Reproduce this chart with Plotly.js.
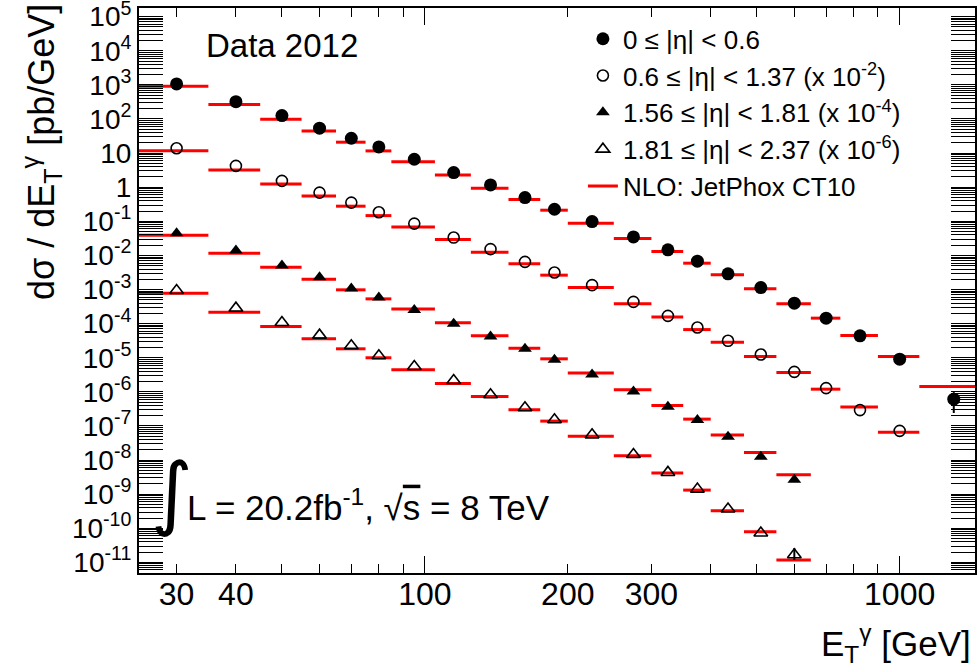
<!DOCTYPE html>
<html><head><meta charset="utf-8">
<script src="https://cdn.plot.ly/plotly-3.0.1.min.js"></script>
<style>body{margin:0;background:#fff}#chart{width:979px;height:672px}</style>
</head><body><div id="chart"></div>
<script>
// Photon ET bins [GeV]
const binLo     = [25, 35, 45, 55, 65, 75, 85, 105, 125, 150, 175, 200, 250, 300, 350, 400, 470, 550, 650, 750, 900, 1100];
const binHi     = [35, 45, 55, 65, 75, 85, 105, 125, 150, 175, 200, 250, 300, 350, 400, 470, 550, 650, 750, 900, 1100, 1500];
const binCenter = [30, 40, 50, 60, 70, 80, 95, 115, 137.5, 162.5, 187.5, 225, 275, 325, 375, 435, 510, 600, 700, 825, 1000, 1300];

// Scale factors applied in the plot (legend: x 10^-2, x 10^-4, x 10^-6)
const scaleFactors = [1, 1e-2, 1e-4, 1e-6];

const seriesNames = [
  '0 ≤ |η| < 0.6',
  '0.6 ≤ |η| < 1.37 (x 10<sup>-2</sup>)',
  '1.56 ≤ |η| < 1.81 (x 10<sup>-4</sup>)',
  '1.81 ≤ |η| < 2.37 (x 10<sup>-6</sup>)'
];
const nloName = 'NLO: JetPhox CT10';

// Measured dσ/dET [pb/GeV] (unscaled)
const data0 = [1070, 323, 126, 53.7, 27.3, 15.2, 6.6, 2.69, 1.17, 0.497, 0.226, 0.0984, 0.035, 0.01456, 0.00679, 0.00288, 0.001146, 3.99e-4, 1.45e-4, 4.4e-5, 9.1e-6, 6.1e-7];
const data1 = [1390, 422, 153, 69.5, 35.4, 18.5, 8.59, 3.34, 1.53, 0.648, 0.315, 0.1345, 0.0435, 0.0169, 0.0077, 0.00314, 0.00125, 3.87e-4, 1.29e-4, 2.92e-5, 7.2e-6];
const data2 = [449, 139, 50.5, 23.1, 10.7, 5.82, 2.5, 0.99, 0.42, 0.183, 0.087, 0.0322, 0.0103, 0.00366, 0.00149, 4.83e-4, 1.25e-4, 2.65e-5];
const data3 = [935, 285, 108, 46, 22.4, 11.4, 5.55, 2.16, 0.82, 0.342, 0.152, 0.055, 0.0146, 0.00435, 0.00141, 3.67e-4, 7.3e-5, 1.68e-5];

// Uncertainties visible beyond the markers (unscaled)
const errUp0   = [0, 0, 0, 0, 0, 0, 0, 0, 0, 0, 0, 0, 0, 0, 0, 0, 0, 0, 0, 0, 0, 3.7e-7];
const errDown0 = [0, 0, 0, 0, 0, 0, 0, 0, 0, 0, 0, 0, 0, 0, 0, 0, 0, 0, 0, 0, 0, 3.7e-7];
const errUp3   = [0, 0, 0, 0, 0, 0, 0, 0, 0, 0, 0, 0, 0, 0, 0, 0, 0, 9.5e-6];
const errDown3 = [0, 0, 0, 0, 0, 0, 0, 0, 0, 0, 0, 0, 0, 0, 0, 0, 0, 5e-6];

// NLO JetPhox CT10 predictions (unscaled)
const nlo0 = [913, 264, 98, 44.8, 20.9, 11.6, 5.6, 2.30, 0.935, 0.434, 0.212, 0.0883, 0.0313, 0.013, 0.00593, 0.0027, 0.00105, 3.81e-4, 1.45e-4, 4.5e-5, 1.09e-5, 1.44e-6];
const nlo1 = [1180, 322, 125, 55.7, 27.8, 14.7, 6.87, 2.92, 1.247, 0.567, 0.264, 0.1146, 0.0381, 0.0158, 0.0067, 0.00287, 0.00109, 3.7e-4, 1.2e-4, 3.58e-5, 6.6e-6];
const nlo2 = [392, 116.4, 45.3, 20.2, 9.8, 5.33, 2.7, 1.06, 0.44, 0.191, 0.093, 0.0355, 0.0115, 0.00398, 0.00159, 5.4e-4, 1.67e-4, 3.7e-5];
const nlo3 = [780, 217, 82, 36, 18.3, 10.0, 4.43, 1.76, 0.73, 0.299, 0.139, 0.050, 0.0134, 0.00416, 0.00132, 3.27e-4, 7.9e-5, 1.18e-5];

// Axis ticks
const xTickVals = [30, 40, 100, 200, 300, 1000];
const xTickText = ['30', '40', '100', '200', '300', '1000'];
const xLongTickVals = [100, 1000];
const xMinorTickVals = [50, 60, 70, 80, 90, 400, 500, 600, 700, 800, 900];
const yTickVals = [1e5, 1e4, 1e3, 1e2, 10, 1, 1e-1, 1e-2, 1e-3, 1e-4, 1e-5, 1e-6, 1e-7, 1e-8, 1e-9, 1e-10, 1e-11];
const yTickText = ['10<sup>5</sup>', '10<sup>4</sup>', '10<sup>3</sup>', '10<sup>2</sup>', '10', '1',
  '10<sup>-1</sup>', '10<sup>-2</sup>', '10<sup>-3</sup>', '10<sup>-4</sup>', '10<sup>-5</sup>', '10<sup>-6</sup>',
  '10<sup>-7</sup>', '10<sup>-8</sup>', '10<sup>-9</sup>', '10<sup>-10</sup>', '10<sup>-11</sup>'];

const FONT = 'Liberation Sans, Arial, Helvetica, sans-serif';

const dataSets = [data0, data1, data2, data3];
const nloSets = [nlo0, nlo1, nlo2, nlo3];
const markerStyles = [
  {symbol: 'circle', size: 13, color: 'black'},
  {symbol: 'circle-open', size: 11, color: 'black', line: {width: 1.6, color: 'black'}},
  {symbol: 'triangle-up', size: 12, color: 'black'},
  {symbol: 'triangle-up-open', size: 12, color: 'black', line: {width: 1.6, color: 'black'}}
];
const errs = [[errUp0, errDown0], null, null, [errUp3, errDown3]];

// NLO segments as one trace with gaps
const nloX = [], nloY = [];
nloSets.forEach((arr, s) => {
  arr.forEach((v, i) => {
    nloX.push(binLo[i], binHi[i], null);
    nloY.push(v * scaleFactors[s], v * scaleFactors[s], null);
  });
});

const traces = [{
  type: 'scatter', mode: 'lines', x: nloX, y: nloY, name: nloName,
  line: {color: '#ff0000', width: 3}, connectgaps: false, legendrank: 5, hoverinfo: 'skip'
}];

dataSets.forEach((arr, s) => {
  const t = {
    type: 'scatter', mode: 'markers', name: seriesNames[s],
    x: binCenter.slice(0, arr.length),
    y: arr.map(v => v * scaleFactors[s]),
    marker: markerStyles[s], legendrank: s + 1, cliponaxis: true
  };
  if (errs[s]) {
    t.error_y = {type: 'data', symmetric: false,
      array: errs[s][0].map(v => v * scaleFactors[s]),
      arrayminus: errs[s][1].map(v => v * scaleFactors[s]),
      color: 'black', thickness: 2, width: 0};
  }
  traces.push(t);
});

// empty helper trace so the overlay axis (long ticks) is drawn
traces.push({type: 'scatter', mode: 'markers', x: [], y: [], xaxis: 'x2', yaxis: 'y', showlegend: false, hoverinfo: 'skip'});

const xRange = [Math.log10(25), Math.log10(1441)];

const layout = {
  width: 979, height: 672,
  margin: {l: 139, r: 4, t: 8, b: 99},
  paper_bgcolor: 'white', plot_bgcolor: 'white',
  font: {family: FONT, color: 'black', size: 24},
  showlegend: true,
  legend: {x: 0.531, y: 0.987, xanchor: 'left', yanchor: 'top', bgcolor: 'rgba(0,0,0,0)',
    font: {family: FONT, size: 26, color: 'black'}, itemwidth: 30, tracegroupgap: 0, traceorder: 'normal'},
  xaxis: {
    type: 'log', range: xRange, showgrid: false, zeroline: false,
    showline: true, linecolor: 'black', linewidth: 2, mirror: 'allticks',
    ticks: 'inside', ticklen: 9, tickwidth: 1, tickcolor: 'black',
    tickmode: 'array', tickvals: xTickVals, ticktext: xTickText, ticklabelstandoff: -8,
    tickfont: {family: FONT, size: 32, color: 'black'},
    minor: {tickmode: 'array', tickvals: xMinorTickVals, ticks: 'inside', ticklen: 9, tickwidth: 1, tickcolor: 'black', showgrid: false}
  },
  xaxis2: {
    type: 'log', range: xRange, overlaying: 'x', anchor: 'y', side: 'bottom',
    showgrid: false, zeroline: false, showline: false, mirror: 'ticks',
    ticks: 'inside', ticklen: 17, tickwidth: 1, tickcolor: 'black',
    tickmode: 'array', tickvals: xLongTickVals, showticklabels: false
  },
  yaxis: {
    type: 'log', range: [-11.31, 5.254], showgrid: false, zeroline: false,
    showline: true, linecolor: 'black', linewidth: 2, mirror: 'allticks',
    ticks: 'inside', ticklen: 24, tickwidth: 1, tickcolor: 'black',
    tickmode: 'array', tickvals: yTickVals, ticktext: yTickText, ticklabeloverflow: 'allow',
    tickfont: {family: FONT, size: 28, color: 'black'},
    minor: {tickmode: 'array', tickvals: (function(){ const m=[]; for (let e=-12;e<=5;e++){ for(let k=2;k<=9;k++){ m.push(k*Math.pow(10,e)); } } return m; })(),
      ticks: 'inside', ticklen: 12, tickwidth: 1, tickcolor: 'black', showgrid: false}
  },
  annotations: [
    {text: 'Data 2012', xref: 'paper', yref: 'paper', x: 0.0778, y: 0.933, xanchor: 'left', yanchor: 'middle',
      showarrow: false, font: {family: FONT, size: 33, color: 'black'}},
    {text: '∫', xref: 'paper', yref: 'paper', x: 0.04, y: 0.142, xanchor: 'center', yanchor: 'middle',
      showarrow: false, font: {family: 'DejaVu Sans, ' + FONT, size: 80, color: 'black'}},
    {text: 'L = 20.2fb<sup>-1</sup>, √<span style="text-decoration:overline">s</span> = 8 TeV', xref: 'paper', yref: 'paper',
      x: 0.0555, y: 0.12, xanchor: 'left', yanchor: 'middle', showarrow: false, font: {family: FONT, size: 35, color: 'black'}},
    {text: 'dσ / dE<sub>T</sub><sup>γ</sup> [pb/GeV]', xref: 'paper', yref: 'paper', x: -0.1172, y: 0.745,
      xanchor: 'center', yanchor: 'middle', textangle: -90, showarrow: false, font: {family: FONT, size: 36, color: 'black'}},
    {text: 'E<sub>T</sub><sup>γ</sup> [GeV]', xref: 'paper', yref: 'paper', x: 0.9976, y: -0.124,
      xanchor: 'right', yanchor: 'middle', showarrow: false, font: {family: FONT, size: 35, color: 'black'}}
  ]
};

Plotly.newPlot('chart', traces, layout, {displayModeBar: false, staticPlot: true});
</script>
</body></html>
